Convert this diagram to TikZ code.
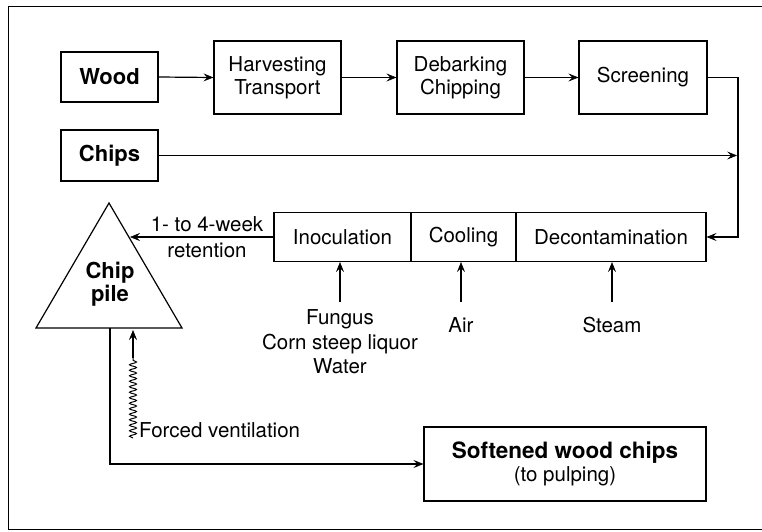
\documentclass[tikz,border=0pt]{standalone}
\usepackage{fontspec}
\setmainfont{TeX Gyre Heros}
\usetikzlibrary{arrows.meta,decorations.pathmorphing}
\tikzset{
  box/.style={draw, line width=1.2pt, rectangle, inner sep=0pt, align=center, font=\fontsize{20.5}{23}\selectfont},
  bbox/.style={box, font=\fontsize{22}{24}\selectfont\bfseries},
  lbl/.style={inner sep=0pt, align=center, font=\fontsize{20.5}{24.5}\selectfont},
  conn/.style={line width=1.2pt},
  arr/.style={conn, -{Stealth[length=10pt,width=8pt,inset=4pt,line width=0.6pt]}},
}
\begin{document}
\begin{tikzpicture}[x=1pt,y=-1pt]
\useasboundingbox (0,0) rectangle (762,532);
\draw[line width=1pt] (762,7) -- (8,7) -- (8,529) -- (762,529);
% top row
\node[bbox, minimum width=97pt, minimum height=50pt] (wood) at (109.5,77) {Wood};
\node[box, minimum width=127pt, minimum height=73pt] (harv) at (277.5,77.5) {Harvesting\\Transport};
\node[box, minimum width=127pt, minimum height=73pt] (deb) at (460.5,77.5) {Debarking\\Chipping};
\node[box, minimum width=128pt, minimum height=73pt] (scr) at (643,77.5) {Screening};
\node[bbox, minimum width=97pt, minimum height=51pt] (chips) at (109.5,155.5) {Chips};
% process block
\node[box, minimum width=137pt, minimum height=49pt] (inoc) at (342.5,237) {Inoculation};
\node[box, minimum width=105pt, minimum height=49pt] (cool) at (463.5,237) {Cooling};
\node[box, minimum width=190pt, minimum height=49pt] (decon) at (611,237) {Decontamination};
% softened
\node[box, minimum width=282pt, minimum height=74pt] (soft) at (565,464) {{\fontsize{22.5}{24}\selectfont\bfseries Softened wood chips}\\(to pulping)};
% chip pile triangle
\coordinate (apex) at (109,203);
\coordinate (bl) at (36,328);
\coordinate (br) at (182,328);
\draw[conn, line join=miter] (apex) -- (br) -- (bl) -- cycle;
\coordinate (tri) at (130,237);
\node[lbl, font=\fontsize{22}{23}\selectfont\bfseries] (pile) at (110,284) {Chip\\pile};
\coordinate (tribot) at (110,328);
% connectors
\draw[arr] (wood.east) -- (harv.west);
\draw[arr] (harv.east) -- (deb.west);
\draw[arr] (deb.east) -- (scr.west);
\coordinate (rj) at (737,155.5);
\draw[arr] (chips.east) -- (rj);
\draw[arr] (scr.east) -| (738,200) |- (decon.east);
\draw[arr] (inoc.west) -- (tri);
\node[lbl] (ret) at (207,237) {1- to 4-week\\[2pt]retention};
% inputs
\node[lbl] (fung) at (340,342) {Fungus\\Corn steep liquor\\Water};
\draw[arr] (340,302) -- (inoc.south -| 340,0);
\node[lbl] (air) at (461,325) {Air};
\draw[arr] (461,302) -- (cool.south -| 461,0);
\node[lbl] (steam) at (612,325) {Steam};
\draw[arr] (612,302) -- (decon.south -| 612,0);
% ventilation
\coordinate (vb) at (133,438);
\coordinate (vm) at (133,358);
\draw[conn, line width=1pt, decorate, decoration={snake, amplitude=3.5pt, segment length=5.5pt}] (vb) -- (vm);
\draw[arr] (vm) -- (133,330);
\node[lbl, anchor=west] (vent) at (139,430) {Forced ventilation};
% output
\draw[arr] (tribot) |- (soft.west);
\end{tikzpicture}
\end{document}
